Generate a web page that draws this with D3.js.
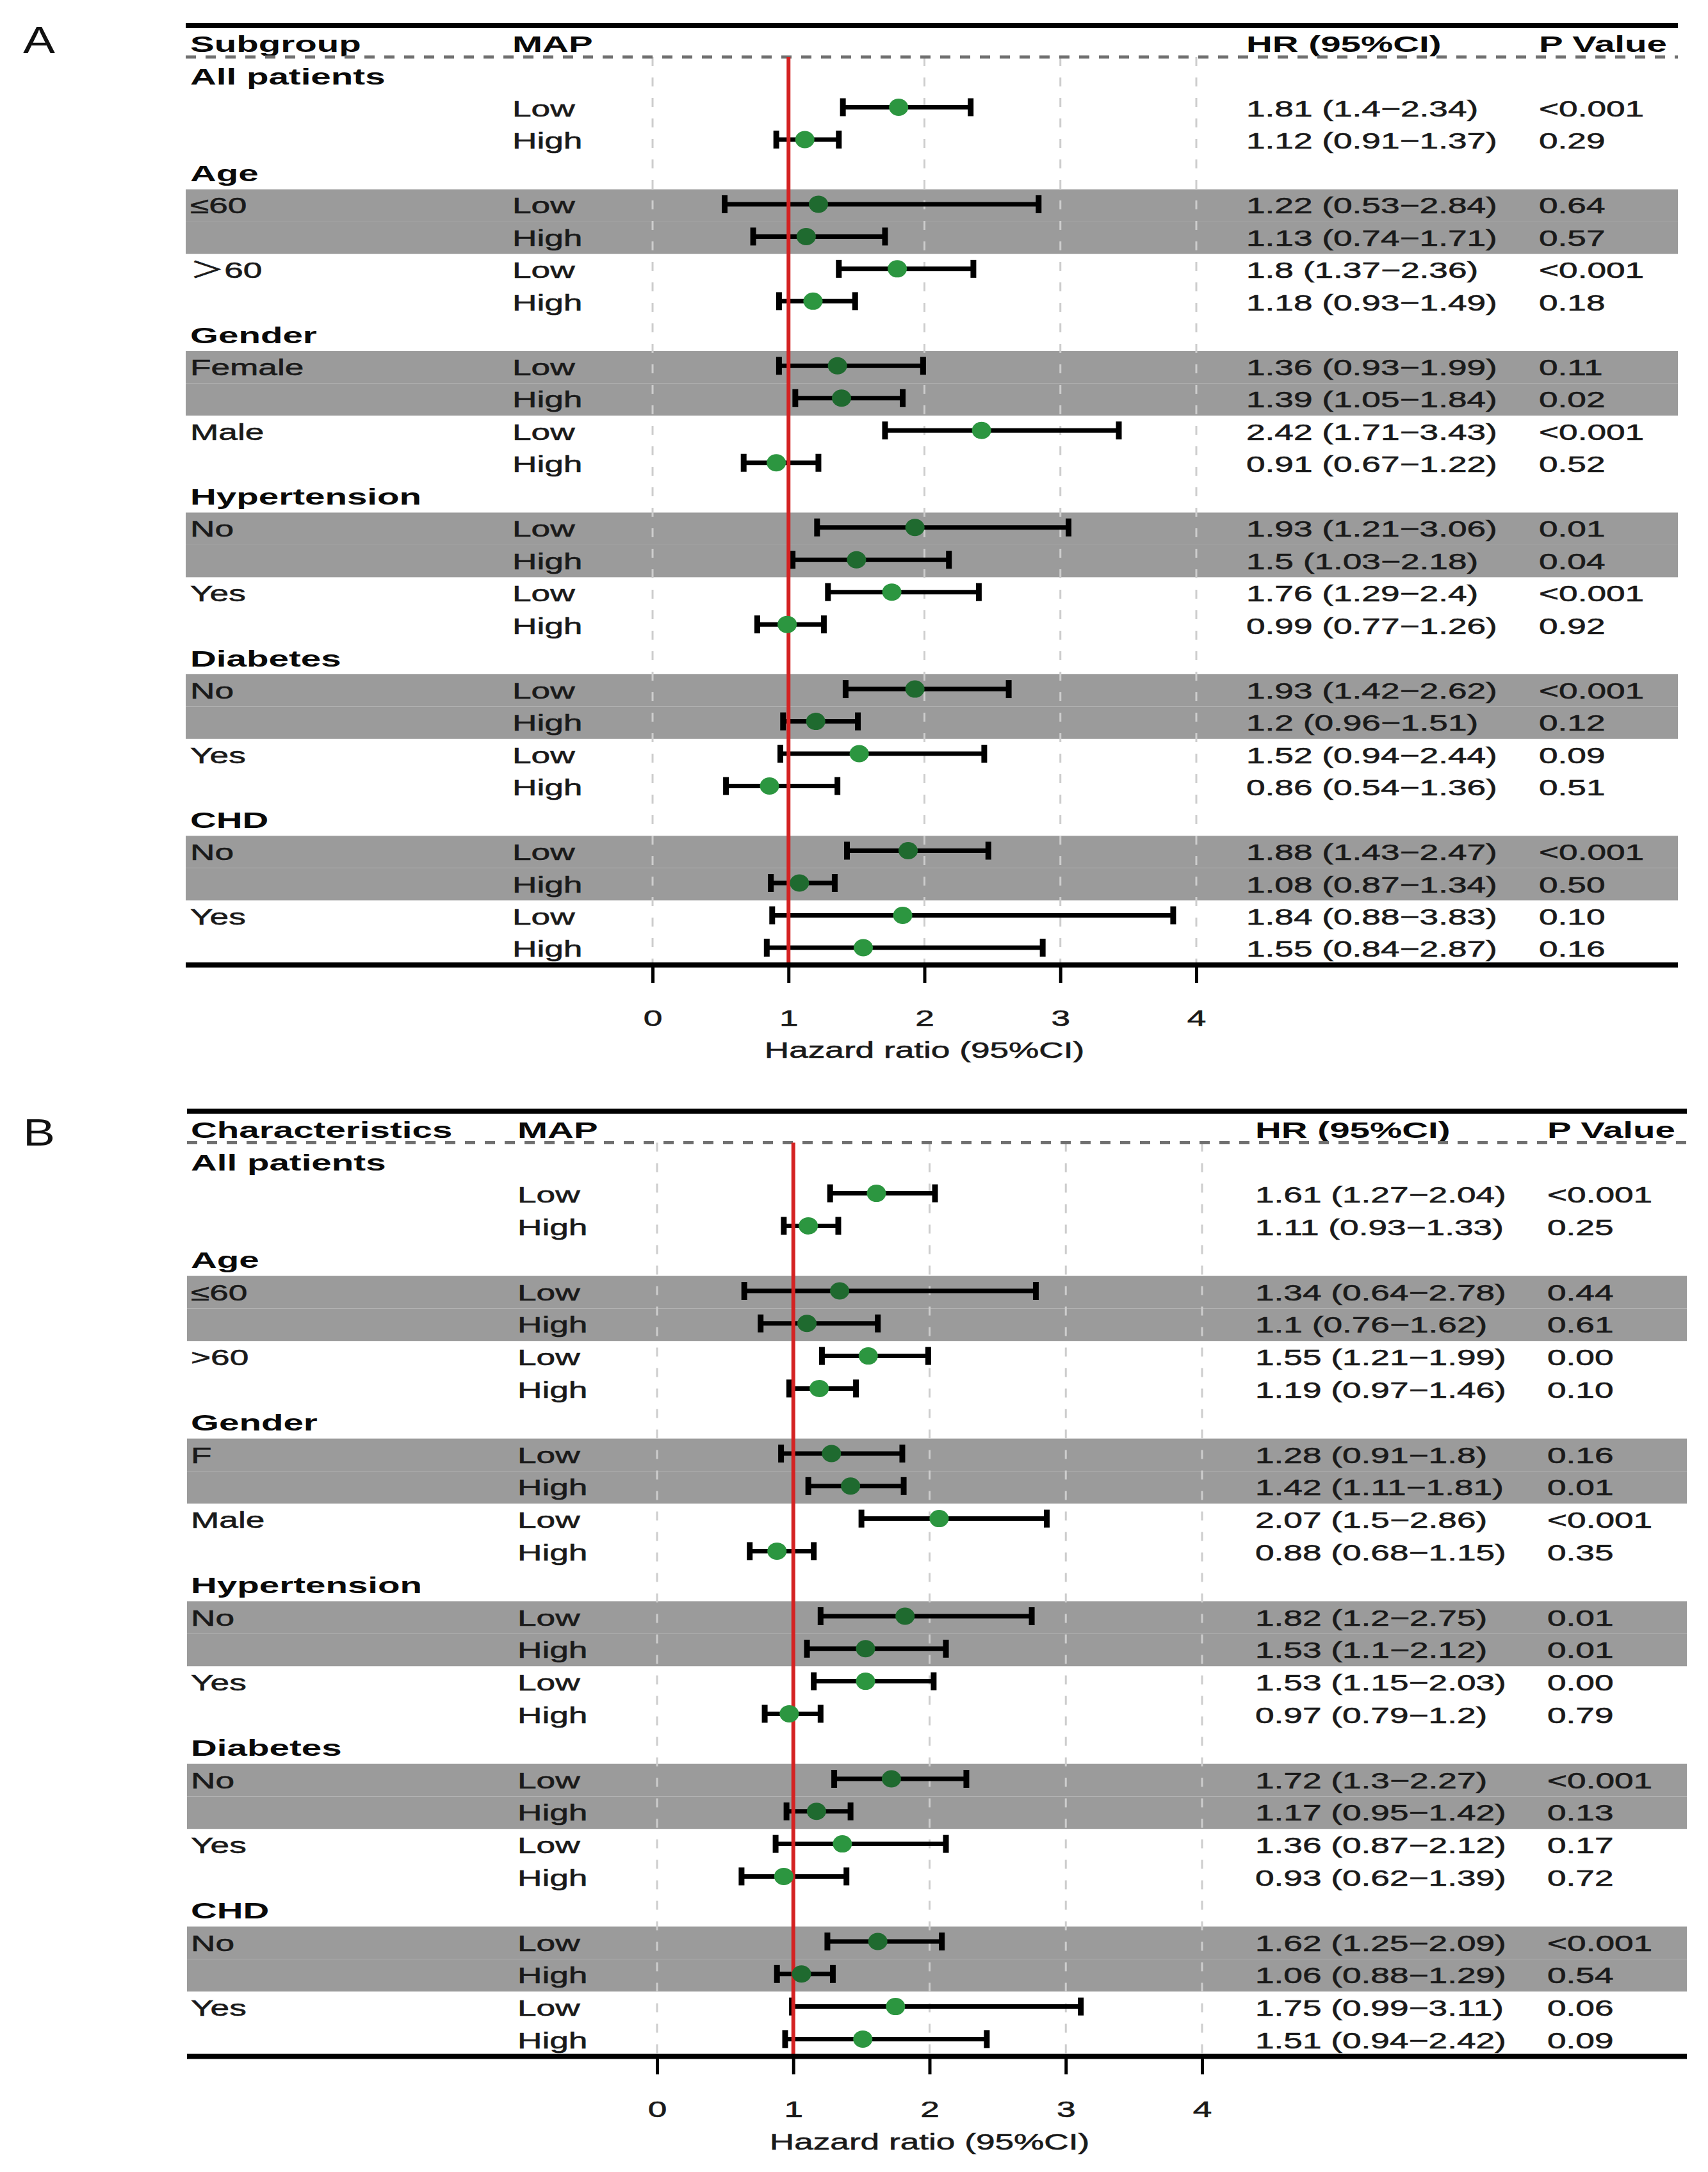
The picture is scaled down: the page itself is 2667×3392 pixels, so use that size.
<!DOCTYPE html>
<html><head><meta charset="utf-8">
<script src="https://cdn.jsdelivr.net/npm/d3@7"></script>
<style>body{margin:0;background:#fff} svg{display:block}</style>
</head><body>
<svg id="chart" width="2667" height="3392"></svg>
<script>
// ---------------- DATA ----------------
const panelLabels = ["A", "B"];
const headersA = ["Subgroup", "MAP", "HR (95%CI)", "P Value"];
const headersB = ["Characteristics", "MAP", "HR (95%CI)", "P Value"];
const mapLevels = ["", "Low", "High", "", "Low", "High", "Low", "High", "", "Low", "High", "Low", "High", "", "Low", "High", "Low", "High", "", "Low", "High", "Low", "High", "", "Low", "High", "Low", "High"];
const subgroupA = ["All patients", "", "", "Age", "≤60", "", "＞60", "", "Gender", "Female", "", "Male", "", "Hypertension", "No", "", "Yes", "", "Diabetes", "No", "", "Yes", "", "CHD", "No", "", "Yes", ""];
const subgroupB = ["All patients", "", "", "Age", "≤60", "", ">60", "", "Gender", "F", "", "Male", "", "Hypertension", "No", "", "Yes", "", "Diabetes", "No", "", "Yes", "", "CHD", "No", "", "Yes", ""];
const hrA   = [null, 1.81, 1.12, null, 1.22, 1.13, 1.8, 1.18, null, 1.36, 1.39, 2.42, 0.91, null, 1.93, 1.5, 1.76, 0.99, null, 1.93, 1.2, 1.52, 0.86, null, 1.88, 1.08, 1.84, 1.55];
const lowA  = [null, 1.4, 0.91, null, 0.53, 0.74, 1.37, 0.93, null, 0.93, 1.05, 1.71, 0.67, null, 1.21, 1.03, 1.29, 0.77, null, 1.42, 0.96, 0.94, 0.54, null, 1.43, 0.87, 0.88, 0.84];
const highA = [null, 2.34, 1.37, null, 2.84, 1.71, 2.36, 1.49, null, 1.99, 1.84, 3.43, 1.22, null, 3.06, 2.18, 2.4, 1.26, null, 2.62, 1.51, 2.44, 1.36, null, 2.47, 1.34, 3.83, 2.87];
const pA    = ["", "<0.001", "0.29", "", "0.64", "0.57", "<0.001", "0.18", "", "0.11", "0.02", "<0.001", "0.52", "", "0.01", "0.04", "<0.001", "0.92", "", "<0.001", "0.12", "0.09", "0.51", "", "<0.001", "0.50", "0.10", "0.16"];
const hrB   = [null, 1.61, 1.11, null, 1.34, 1.1, 1.55, 1.19, null, 1.28, 1.42, 2.07, 0.88, null, 1.82, 1.53, 1.53, 0.97, null, 1.72, 1.17, 1.36, 0.93, null, 1.62, 1.06, 1.75, 1.51];
const lowB  = [null, 1.27, 0.93, null, 0.64, 0.76, 1.21, 0.97, null, 0.91, 1.11, 1.5, 0.68, null, 1.2, 1.1, 1.15, 0.79, null, 1.3, 0.95, 0.87, 0.62, null, 1.25, 0.88, 0.99, 0.94];
const highB = [null, 2.04, 1.33, null, 2.78, 1.62, 1.99, 1.46, null, 1.8, 1.81, 2.86, 1.15, null, 2.75, 2.12, 2.03, 1.2, null, 2.27, 1.42, 2.12, 1.39, null, 2.09, 1.29, 3.11, 2.42];
const pB    = ["", "<0.001", "0.25", "", "0.44", "0.61", "0.00", "0.10", "", "0.16", "0.01", "<0.001", "0.35", "", "0.01", "0.01", "0.00", "0.79", "", "<0.001", "0.13", "0.17", "0.72", "", "<0.001", "0.54", "0.06", "0.09"];
const xTicks = [0, 1, 2, 3, 4];
const xDomain = [0, 4];
const refValue = 1;
const axisTitle = "Hazard ratio (95%CI)";

// ---------------- LAYOUT ----------------
const FONT = "'Liberation Sans', Arial, 'Noto Sans CJK SC', sans-serif";
const FS = 35, SX = 1.52, BFS = 36, BSX = 1.57;
const panels = [
  {label: panelLabels[0], headers: headersA, sub: subgroupA, hr: hrA, lo: lowA, hi: highA, p: pA,
   labelX: 36, labelBase: 83, headerY: 68.5, step: 50.48, left: 290, right: 2620,
   cols: [297, 800, 1946, 2403], range: [1019, 1868]},
  {label: panelLabels[1], headers: headersB, sub: subgroupB, hr: hrB, lo: lowB, hi: highB, p: pB,
   labelX: 36, labelBase: 1789, headerY: 1764, step: 50.8, left: 292, right: 2634,
   cols: [298, 808, 1960, 2416], range: [1026, 1877]}
];

const svg = d3.select("#chart");
svg.append("rect").attr("width", 2667).attr("height", 3392).attr("fill", "#fff");

function addText(g, x, yc, s, bold, anchor) {
  const fs = bold ? BFS : FS, sx = bold ? BSX : SX;
  return g.append("text")
    .attr("transform", `translate(${x},${yc + fs * 0.358}) scale(${sx},1)`)
    .attr("font-family", FONT).attr("font-size", fs)
    .attr("font-weight", bold ? "bold" : "normal")
    .attr("fill", bold ? "#0a0a0a" : "#1a1a1a")
    .attr("stroke", bold ? "none" : "#1a1a1a").attr("stroke-width", bold ? 0 : 0.6)
    .attr("text-anchor", anchor || "start")
    .text(s);
}

panels.forEach(P => {
  const g = svg.append("g");
  const n = P.sub.length;
  const rowY = i => P.headerY + (i + 1) * P.step;
  const x = d3.scaleLinear().domain(xDomain).range(P.range);
  const dashY = P.headerY + 20.5;
  const topY = P.headerY - 28.5;
  const axisY = rowY(n - 1) + 25;

  // banded rows: first level of each category
  const band = [];
  let lvl = -1;
  for (let i = 0; i < n; i++) {
    if (mapLevels[i] === "") lvl = -1;
    else if (P.sub[i] !== "") lvl++;
    band.push(lvl === 0);
  }
  g.append("g").selectAll("rect").data(d3.range(n).filter(i => band[i])).join("rect")
    .attr("x", P.left).attr("width", P.right - P.left)
    .attr("y", i => rowY(i) - P.step / 2).attr("height", P.step)
    .attr("fill", "#9b9b9b");

  // gridlines
  g.append("g").selectAll("line").data(xTicks).join("line")
    .attr("x1", d => x(d)).attr("x2", d => x(d))
    .attr("y1", dashY).attr("y2", axisY)
    .attr("stroke", "#cdcdcd").attr("stroke-width", 3).attr("stroke-dasharray", "14 18");

  // panel label
  g.append("text").attr("transform", `translate(${P.labelX},${P.labelBase}) scale(1.25,1)`)
    .attr("font-family", FONT).attr("font-size", 60).attr("fill", "#111").text(P.label);

  // header
  P.headers.forEach((h, j) => addText(g, P.cols[j], P.headerY, h, true));

  // table text
  for (let i = 0; i < n; i++) {
    const bold = mapLevels[i] === "";
    if (P.sub[i]) addText(g, P.cols[0], rowY(i), P.sub[i], bold);
    if (mapLevels[i]) addText(g, P.cols[1], rowY(i), mapLevels[i], false);
    if (P.hr[i] != null) addText(g, P.cols[2], rowY(i), `${P.hr[i]} (${P.lo[i]}−${P.hi[i]})`, false);
    if (P.p[i]) addText(g, P.cols[3], rowY(i), P.p[i], false);
  }

  // rules
  g.append("line").attr("x1", P.left).attr("x2", P.right).attr("y1", topY).attr("y2", topY)
    .attr("stroke", "#000").attr("stroke-width", 8);
  g.append("line").attr("x1", P.left).attr("x2", P.right).attr("y1", dashY).attr("y2", dashY)
    .attr("stroke", "#707070").attr("stroke-width", 5).attr("stroke-dasharray", "16 15");

  // CI bars
  const idx = d3.range(n).filter(i => P.hr[i] != null);
  const ci = g.append("g");
  ci.selectAll("line.ci").data(idx).join("line").attr("class", "ci")
    .attr("x1", i => x(P.lo[i])).attr("x2", i => x(P.hi[i]))
    .attr("y1", i => rowY(i) - 2).attr("y2", i => rowY(i) - 2)
    .attr("stroke", "#000").attr("stroke-width", 7);
  ["lo", "hi"].forEach(k => {
    ci.selectAll("line.cap" + k).data(idx).join("line").attr("class", "cap" + k)
      .attr("x1", i => x(P[k][i])).attr("x2", i => x(P[k][i]))
      .attr("y1", i => rowY(i) - 16).attr("y2", i => rowY(i) + 12)
      .attr("stroke", "#000").attr("stroke-width", 9);
  });

  // reference line
  g.append("line").attr("x1", x(refValue)).attr("x2", x(refValue))
    .attr("y1", dashY).attr("y2", axisY)
    .attr("stroke", "#d42222").attr("stroke-width", 6);

  // points
  g.append("g").selectAll("ellipse").data(idx).join("ellipse")
    .attr("cx", i => x(P.hr[i])).attr("cy", i => rowY(i) - 2)
    .attr("rx", 15).attr("ry", 13.5)
    .attr("fill", i => band[i] ? "#1f6a2f" : "#2c9640");

  // axis
  g.append("line").attr("x1", P.left).attr("x2", P.right).attr("y1", axisY).attr("y2", axisY)
    .attr("stroke", "#000").attr("stroke-width", 8);
  const ax = g.append("g").attr("transform", `translate(0,${axisY})`)
    .call(d3.axisBottom(x).tickValues(xTicks).tickFormat(d3.format("d"))
      .tickSize(28).tickSizeOuter(0).tickPadding(42));
  ax.select(".domain").remove();
  ax.selectAll(".tick line").attr("stroke", "#000").attr("stroke-width", 5);
  ax.selectAll(".tick text").attr("font-family", FONT).attr("font-size", FS)
    .attr("fill", "#1a1a1a").attr("stroke", "#1a1a1a").attr("stroke-width", 0.6)
    .attr("transform", `scale(${SX},1)`);
  g.append("text")
    .attr("transform", `translate(${(P.range[0] + P.range[1]) / 2},${axisY + 133 + 12.5}) scale(${SX},1)`)
    .attr("font-family", FONT).attr("font-size", FS).attr("fill", "#1a1a1a")
    .attr("stroke", "#1a1a1a").attr("stroke-width", 0.6)
    .attr("text-anchor", "middle").text(axisTitle);
});
</script>
</body></html>
